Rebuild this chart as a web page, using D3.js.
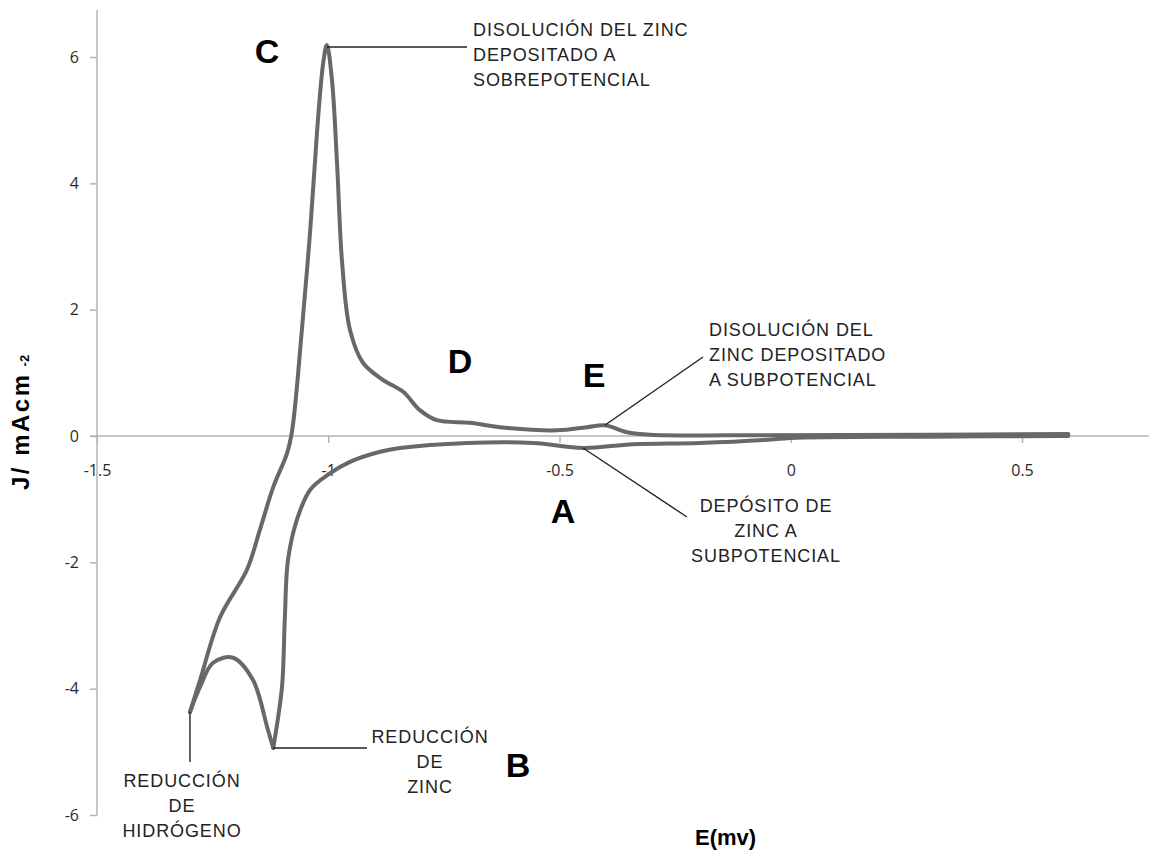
<!DOCTYPE html>
<html>
<head>
<meta charset="utf-8">
<script src="https://cdn.jsdelivr.net/npm/d3@7"></script>
<style>
  body { margin: 0; background: #fff; }
  .axis text { font-family: "Open Sans", sans-serif; font-size: 16px; fill: #2a2a2a; }
  .axis line { stroke: #b4b4b4; stroke-width: 1.5; }
  .note { font-family: "Liberation Sans", Arial, sans-serif; font-size: 18px; fill: #222; letter-spacing: 0.9px; }
  .big { font-family: "Liberation Sans", Arial, sans-serif; font-size: 34px; font-weight: bold; fill: #000; }
  .title { font-family: "Liberation Sans", Arial, sans-serif; font-weight: bold; fill: #000; }
</style>
</head>
<body>
<svg id="chart"></svg>
<script>
// Cathodic sweep: 0.6 V down to the zinc reduction peak (B)
const cathodicE = [0.6, 0.3, 0.0, -0.051, -0.196, -0.341, -0.449, -0.557, -0.7, -0.845, -0.888, -0.953, -0.996, -1.039, -1.068, -1.087, -1.094, -1.1, -1.119];
const cathodicJ = [0.0, -0.01, -0.03, -0.06, -0.11, -0.13, -0.19, -0.11, -0.11, -0.19, -0.25, -0.41, -0.59, -0.85, -1.33, -1.96, -2.91, -3.97, -4.94];

// Small loop between B and the hydrogen reduction end point
const loopE = [-1.119, -1.132, -1.163, -1.206, -1.249, -1.277, -1.299];
const loopJ = [-4.94, -4.61, -3.86, -3.51, -3.59, -3.97, -4.37];

// Anodic sweep: back from -1.3 V through peaks C, D, E to 0.6 V
const anodicE = [-1.299, -1.277, -1.234, -1.176, -1.148, -1.119, -1.089, -1.078, -1.057, -1.039, -1.024, -1.011, -1.003, -0.992, -0.981, -0.97, -0.953, -0.925, -0.882, -0.838, -0.802, -0.765, -0.694, -0.629, -0.505, -0.441, -0.402, -0.354, -0.304, -0.125, 0.3, 0.6];
const anodicJ = [-4.37, -3.86, -2.87, -2.12, -1.49, -0.81, -0.27, 0.09, 1.68, 3.26, 4.84, 5.9, 6.19, 5.64, 4.32, 2.74, 1.68, 1.16, 0.89, 0.7, 0.41, 0.25, 0.21, 0.14, 0.09, 0.14, 0.17, 0.06, 0.02, 0.01, 0.02, 0.03];

const xTicks = [-1.5, -1, -0.5, 0, 0.5];
const yTicks = [-6, -4, -2, 0, 2, 4, 6];

const width = 1149, height = 852;

const svg = d3.select('#chart')
  .attr('width', width)
  .attr('height', height);

const x = d3.scaleLinear().domain([-1.5, 0.5]).range([97, 1022]);
const y = d3.scaleLinear().domain([-6, 6]).range([815, 57]);

// plain hyphen, as in the original spreadsheet labels
const fmt = d => String(d);

// Axes (domain lines replaced by longer plain lines)
svg.append('line')
  .attr('x1', 90).attr('x2', width)
  .attr('y1', y(0)).attr('y2', y(0))
  .attr('stroke', '#b4b4b4').attr('stroke-width', 1.5);

svg.append('line')
  .attr('x1', x(-1.5)).attr('x2', x(-1.5))
  .attr('y1', 10).attr('y2', y(-6))
  .attr('stroke', '#b4b4b4').attr('stroke-width', 1.5);

svg.append('g')
  .attr('class', 'axis')
  .attr('transform', `translate(0,${y(0)})`)
  .call(d3.axisBottom(x).tickValues(xTicks).tickSize(7).tickPadding(22).tickFormat(fmt))
  .call(g => g.select('.domain').remove());

svg.append('g')
  .attr('class', 'axis')
  .attr('transform', `translate(${x(-1.5)},0)`)
  .call(d3.axisLeft(y).tickValues(yTicks).tickSize(7).tickPadding(11).tickFormat(fmt))
  .call(g => g.select('.domain').remove());

// Curve
const line = d3.line()
  .x(d => x(d[0]))
  .y(d => y(d[1]))
  .curve(d3.curveCatmullRom.alpha(0.5));

const segments = [
  d3.zip(cathodicE, cathodicJ),
  d3.zip(loopE, loopJ),
  d3.zip(anodicE, anodicJ)
];

svg.append('g')
  .selectAll('path')
  .data(segments)
  .join('path')
  .attr('d', line)
  .attr('fill', 'none')
  .attr('stroke', '#686868')
  .attr('stroke-width', 4)
  .attr('stroke-linejoin', 'round')
  .attr('stroke-linecap', 'round');

// Leader lines
const leaders = svg.append('g')
  .attr('stroke', '#222')
  .attr('stroke-width', 1.4);

leaders.append('line') // C peak
  .attr('x1', x(-1.003)).attr('y1', y(6.19) + 2)
  .attr('x2', 467).attr('y2', y(6.19) + 2);
leaders.append('line') // E
  .attr('x1', x(-0.402)).attr('y1', y(0.17))
  .attr('x2', 703).attr('y2', 357);
leaders.append('line') // A
  .attr('x1', x(-0.449)).attr('y1', y(-0.19))
  .attr('x2', 687).attr('y2', 517);
leaders.append('line') // B
  .attr('x1', x(-1.119)).attr('y1', y(-4.94))
  .attr('x2', 367).attr('y2', y(-4.94));
leaders.append('line') // hydrogen
  .attr('x1', x(-1.299)).attr('y1', y(-4.37))
  .attr('x2', x(-1.299)).attr('y2', 762);

// Annotation texts
function note(lines, px, py, anchor) {
  const t = svg.append('text')
    .attr('class', 'note')
    .attr('text-anchor', anchor);
  lines.forEach((s, i) => {
    t.append('tspan').attr('x', px).attr('y', py + i * 25).text(s);
  });
}

note(['DISOLUCIÓN DEL ZINC', 'DEPOSITADO A', 'SOBREPOTENCIAL'], 473, 36, 'start');
note(['DISOLUCIÓN DEL', 'ZINC DEPOSITADO', 'A SUBPOTENCIAL'], 709, 336, 'start');
note(['DEPÓSITO DE', 'ZINC A', 'SUBPOTENCIAL'], 766, 512, 'middle');
note(['REDUCCIÓN', 'DE', 'ZINC'], 430, 743, 'middle');
note(['REDUCCIÓN', 'DE', 'HIDRÓGENO'], 182, 787, 'middle');

const letters = [
  { t: 'C', x: 267, y: 63 },
  { t: 'D', x: 460, y: 373 },
  { t: 'E', x: 594, y: 387 },
  { t: 'A', x: 563, y: 523 },
  { t: 'B', x: 518, y: 777 }
];
svg.selectAll('.big')
  .data(letters)
  .join('text')
  .attr('class', 'big')
  .attr('text-anchor', 'middle')
  .attr('x', d => d.x)
  .attr('y', d => d.y)
  .text(d => d.t);

// Axis titles
const yt = svg.append('text')
  .attr('class', 'title')
  .attr('transform', 'translate(29,490) rotate(-90)')
  .attr('font-size', 24)
  .attr('letter-spacing', 2.5);
yt.append('tspan').text('J/ mAcm');
yt.append('tspan').attr('dx', 6).attr('font-size', 13).attr('letter-spacing', 0).text('-2');

svg.append('text')
  .attr('class', 'title')
  .attr('x', 695)
  .attr('y', 845)
  .attr('font-size', 22)
  .text('E(mv)');
</script>
</body>
</html>
